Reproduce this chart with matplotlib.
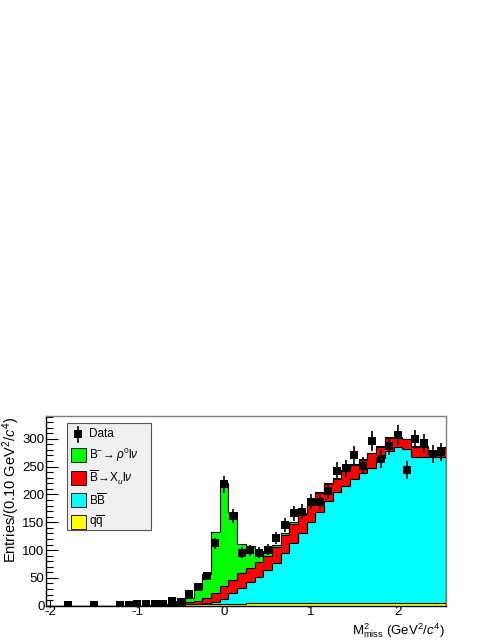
import numpy as np
import matplotlib
matplotlib.use("Agg")
import matplotlib.pyplot as plt
from matplotlib.patches import Rectangle
from matplotlib.lines import Line2D

plt.rcParams['font.family'] = ['Liberation Sans', 'DejaVu Sans']
plt.rcParams['mathtext.fontset'] = 'custom'
plt.rcParams['mathtext.rm'] = 'Liberation Sans'
plt.rcParams['mathtext.it'] = 'Liberation Sans:italic'
plt.rcParams['mathtext.bf'] = 'Liberation Sans:bold'

# ---- data (46 bins of 0.10 GeV^2/c^4, centres -2.0 ... 2.5) ----
bin_lo, bin_hi, n_bins = -2.05, 2.55, 46

data_counts = [0, 0, 1, 0, 0, 2, 0, 0, 1, 1, 3, 3, 3, 3, 8, 6, 21, 34, 53, 112,
               218, 161, 95, 100, 95, 101, 122, 145, 166, 169, 187, 186, 206, 242,
               247, 270, 252, 296, 264, 287, 307, 244, 299, 292, 273, 276]

qq = [0]*12 + [0.5, 1, 1.5, 2, 2.5, 3, 3, 3, 3.5, 3.5, 3.5, 4, 4, 4, 4, 4, 4, 4, 4,
               4, 4.5, 5, 5, 4.5, 4, 4, 4, 4.5, 5, 5, 4, 4, 4, 4]
bbbar = [0]*12 + [0.5, 0.5, 0.5, 0.5, 0.5, 0.5, 1, 3, 8.5, 18.5, 28.5, 38, 48, 60, 72,
                  90, 108, 126, 147, 164, 183.5, 199, 211, 223.5, 234, 243, 262,
                  273.5, 280, 277, 264, 264, 264, 264]
xulnu = [0]*12 + [0.5, 0.5, 1, 1.5, 3, 5.5, 9, 16, 23, 24, 26, 26, 26, 25, 29, 33, 34,
                  34, 32, 35, 31, 24, 27, 25, 24, 27, 20, 24, 17, 17, 18, 18, 4, 16]
rholnu = [0]*12 + [0.5, 1, 2, 4, 8, 21, 44, 110, 186, 123, 53, 40, 14, 9, 5, 4, 4, 3,
                   3, 2, 2, 2, 1, 1, 1, 1, 1, 1, 1, 1, 1, 1, 1, 1]

labels = ['Data',
          r'$\mathrm{B}^{-}\!\rightarrow\rho^{0}\mathrm{l}\nu$',
          r'$\overline{\mathrm{B}}\!\rightarrow\!\mathrm{X}_{u}\mathrm{l}\nu$',
          r'$\mathrm{B}\overline{\mathrm{B}}$',
          r'$\mathrm{q}\overline{\mathrm{q}}$']
colors = ['#00ff00', '#ff0000', '#00ffff', '#ffff00']

# ---- figure ----
W, H = 494, 640
fig = plt.figure(figsize=(W/100, H/100), dpi=100)
def fx(x): return x / W
def fy(y): return 1 - y / H

ax = fig.add_axes([fx(46), fy(605.7), fx(445.7) - fx(46), fy(416) - fy(605.7)])

edges = np.linspace(bin_lo, bin_hi, n_bins + 1)
centres = 0.5 * (edges[:-1] + edges[1:])

c1 = np.array(qq, float)
c2 = c1 + np.array(bbbar, float)
c3 = c2 + np.array(xulnu, float)
c4 = c3 + np.array(rholnu, float)

for cum, col in zip([c4, c3, c2, c1], colors):
    ax.stairs(cum, edges, fill=True, color=col, baseline=0, zorder=2)
for cum in [c4, c3, c2, c1]:
    ax.stairs(cum, edges, color='black', lw=0.8, baseline=0, zorder=3)

d = np.array(data_counts, float)
m = d > 0
ax.errorbar(centres[m], d[m], yerr=np.sqrt(d[m]), fmt='s', color='black',
            ms=5.5, mew=0, elinewidth=1.2, capsize=0, zorder=5)

ax.set_xlim(bin_lo, bin_hi)
ax.set_ylim(0, 341)
ax.set_xticks([-2, -1, 0, 1, 2])
ax.set_xticklabels(['-2', '-1', '0', '1', '2'])
ax.set_yticks(np.arange(0, 301, 50))
ax.set_yticks(np.arange(0, 341, 10), minor=True)
ax.tick_params(axis='y', which='major', direction='in', length=8.4, width=0.8,
               labelsize=9.5, pad=1, right=False)
ax.tick_params(axis='y', which='minor', direction='in', length=4.8, width=0.8, right=False)
ax.tick_params(axis='x', which='major', direction='in', length=4.2, width=0.8,
               labelsize=9.5, pad=0.5, top=False)
for s in ['left', 'bottom']:
    ax.spines[s].set_color('black')
    ax.spines[s].set_linewidth(1.0)
for s in ['top', 'right']:
    ax.spines[s].set_color('#808080')
    ax.spines[s].set_linewidth(1.0)

fig.text(fx(11), fy(416), r'Entries/(0.10 GeV$^{2}$/$c^{4}$)', rotation=90,
         ha='center', va='top', fontsize=10.5)
fig.text(fx(445), fy(640), r'$\mathrm{M}^{2}_{\mathrm{miss}}$ (GeV$^{2}$/$c^{4}$)',
         ha='right', va='bottom', fontsize=9.5)

# ---- legend ----
fig.patches.append(Rectangle((fx(67.3), fy(530)), fx(151) - fx(67.3), fy(423.3) - fy(530),
                             transform=fig.transFigure, facecolor='#f0f0f0',
                             edgecolor='#555555', lw=0.8, zorder=10))
ycent = [434.3, 455, 477.8, 499.8, 522]
fig.lines.append(Line2D([fx(78.3)], [fy(ycent[0])], marker='s', ms=5.5, mew=0,
                        color='black', transform=fig.transFigure, zorder=11))
fig.lines.append(Line2D([fx(78.3), fx(78.3)], [fy(427), fy(441.5)], lw=1.2,
                        color='black', transform=fig.transFigure, zorder=11))
for yc, col in zip(ycent[1:], colors):
    fig.patches.append(Rectangle((fx(71), fy(yc + 7)), fx(85.7) - fx(71), fy(yc - 7) - fy(yc + 7),
                                 transform=fig.transFigure, facecolor=col,
                                 edgecolor='black', lw=0.6, zorder=11))
for yc, lab in zip(ycent, labels):
    fig.text(fx(88.5), fy(yc), lab, ha='left', va='center', fontsize=8.5, zorder=12)

fig.savefig('out.png', dpi=100)
